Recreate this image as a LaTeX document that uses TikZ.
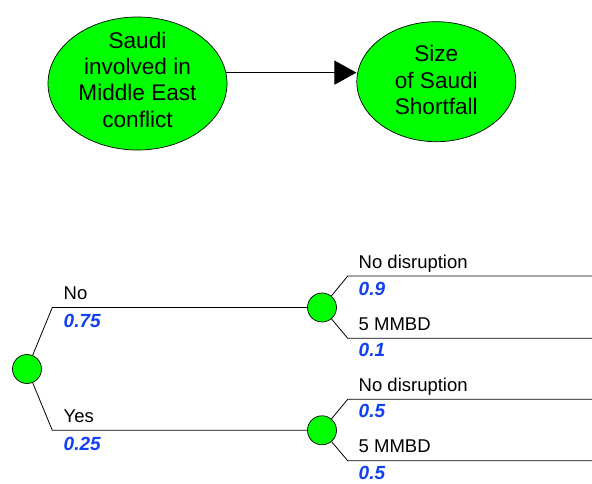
\documentclass[tikz,border=0pt]{standalone}
\usepackage{fontspec}
\setmainfont{Liberation Sans}
\usetikzlibrary{arrows.meta,shapes.geometric}
\definecolor{nodegreen}{RGB}{0,255,0}
\definecolor{probblue}{RGB}{16,64,240}
\tikzset{
  influence/.style={ellipse, draw=black, line width=0.7pt, fill=nodegreen, inner sep=0pt},
  infotext/.style={align=center, inner sep=0pt, font=\fontsize{22.6}{26.2}\selectfont},
  chance/.style={circle, draw=black, line width=0.7pt, fill=nodegreen, minimum size=29pt, inner sep=0pt},
  branch/.style={draw=black, line width=0.8pt},
  outcome/.style={anchor=base west, inner sep=0pt, font=\fontsize{18.5}{21}\selectfont},
  prob/.style={anchor=base west, inner sep=0pt, text=probblue, font=\fontsize{19}{21}\selectfont\bfseries\itshape},
  influencearrow/.style={draw=black, line width=0.9pt, -{Triangle[length=22pt,width=24pt]}}
}
\begin{document}
\begin{tikzpicture}[x=1pt,y=-1pt]
\useasboundingbox (0,0) rectangle (592,483);

% influence diagram
\node[influence, minimum width=179pt, minimum height=133pt] (conflict) at (137.5,83.5) {};
\node[infotext] (conflicttext) at (137.5,79.7) {Saudi\\involved in\\Middle East\\conflict};
\node[influence, minimum width=159pt, minimum height=120pt] (shortfall) at (436.3,81.7) {};
\node[infotext] (shortfalltext) at (436.3,80) {Size\\of Saudi\\Shortfall};
\draw[influencearrow] (conflict.7) -- (conflict.7 -| shortfall.west);

% decision tree: chance nodes
\node[chance] (root) at (27,369) {};
\node[chance] (noNode) at (322,307.5) {};
\node[chance] (yesNode) at (322,430.3) {};

% branch corners and free ends
\coordinate (noCorner) at (52.3,307.5);
\coordinate (yesCorner) at (52.3,430.3);
\coordinate (aCorner) at (347.7,276);
\coordinate (bCorner) at (347.7,338.3);
\coordinate (cCorner) at (347.7,399.3);
\coordinate (dCorner) at (347.7,460.7);
\coordinate (aEnd) at (592,276);
\coordinate (bEnd) at (592,338.3);
\coordinate (cEnd) at (592,399.3);
\coordinate (dEnd) at (592,460.7);

\draw[branch] (root) -- (noCorner) -- (noNode);
\draw[branch] (root) -- (yesCorner) -- (yesNode);
\draw[branch] (noNode) -- (aCorner) -- (aEnd);
\draw[branch] (noNode) -- (bCorner) -- (bEnd);
\draw[branch] (yesNode) -- (cCorner) -- (cEnd);
\draw[branch] (yesNode) -- (dCorner) -- (dEnd);

% branch labels
\node[outcome] (noLabel) at (63.5,299.3) {No};
\node[prob] (noProb) at (63.5,327.5) {0.75};
\node[outcome] (yesLabel) at (63.5,422.3) {Yes};
\node[prob] (yesProb) at (63.5,450) {0.25};

\node[outcome] (aLabel) at (358.5,268.3) {No disruption};
\node[prob] (aProb) at (358.5,295) {0.9};
\node[outcome] (bLabel) at (358.5,330) {5 MMBD};
\node[prob] (bProb) at (358.5,356.7) {0.1};
\node[outcome] (cLabel) at (358.5,391.7) {No disruption};
\node[prob] (cProb) at (358.5,417.7) {0.5};
\node[outcome] (dLabel) at (358.5,452.3) {5 MMBD};
\node[prob] (dProb) at (358.5,479.3) {0.5};
\end{tikzpicture}
\end{document}
